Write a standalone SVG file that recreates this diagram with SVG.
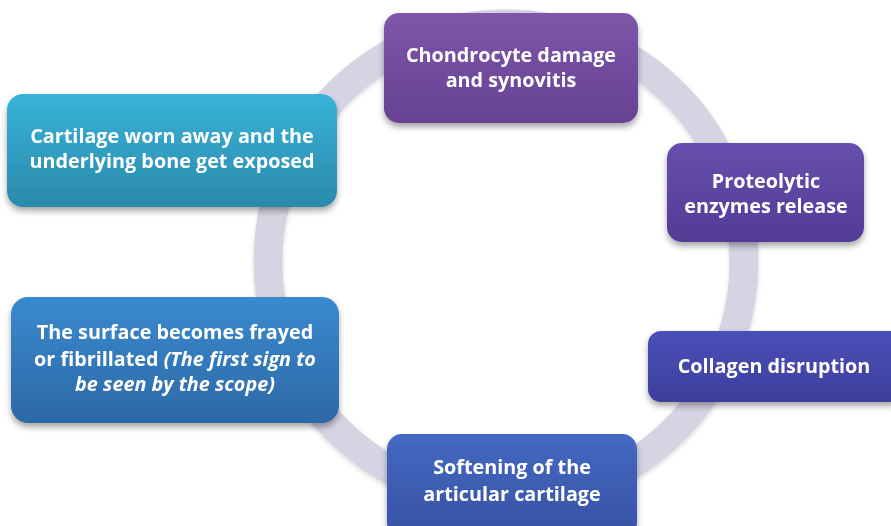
<svg xmlns="http://www.w3.org/2000/svg" width="891" height="526" viewBox="0 0 891 526">
<defs>
<style>
.t{font-family:"Open Sans","Liberation Sans",Arial,sans-serif;font-weight:700;font-size:19.8px;fill:#ffffff;text-anchor:middle}
.i{font-style:italic}
</style>
<filter id="sh" x="-10%" y="-10%" width="120%" height="140%">
<feDropShadow dx="0" dy="4" stdDeviation="3" flood-color="#000" flood-opacity="0.35"/>
</filter>
<filter id="rs" x="-10%" y="-10%" width="120%" height="120%">
<feDropShadow dx="0" dy="2" stdDeviation="2" flood-color="#000" flood-opacity="0.15"/>
</filter>
<linearGradient id="g1" x1="0" y1="0" x2="0" y2="1"><stop offset="0" stop-color="#7e56a9"/><stop offset="1" stop-color="#664294"/></linearGradient>
<linearGradient id="g2" x1="0" y1="0" x2="0" y2="1"><stop offset="0" stop-color="#674fae"/><stop offset="1" stop-color="#523b95"/></linearGradient>
<linearGradient id="g3" x1="0" y1="0" x2="0" y2="1"><stop offset="0" stop-color="#4b4fb8"/><stop offset="1" stop-color="#3c3e9c"/></linearGradient>
<linearGradient id="g4" x1="0" y1="0" x2="0" y2="1"><stop offset="0" stop-color="#4569c3"/><stop offset="1" stop-color="#3651a3"/></linearGradient>
<linearGradient id="g5" x1="0" y1="0" x2="0" y2="1"><stop offset="0" stop-color="#3a8acf"/><stop offset="1" stop-color="#2d68a6"/></linearGradient>
<linearGradient id="g6" x1="0" y1="0" x2="0" y2="1"><stop offset="0" stop-color="#38b3d8"/><stop offset="1" stop-color="#2a8aab"/></linearGradient>
</defs>
<rect width="891" height="526" fill="#ffffff"/>
<g id="connectors">
<circle cx="506" cy="262" r="238" fill="none" stroke="#d6d3e3" stroke-width="29" filter="url(#rs)"/>
</g>
<g id="n1" filter="url(#sh)">
<rect x="384" y="13" width="254" height="110" rx="15" fill="url(#g1)"/>
<text class="t" x="511" y="62">Chondrocyte damage</text>
<text class="t" x="511" y="87">and synovitis</text>
</g>
<g id="n2" filter="url(#sh)">
<rect x="667" y="143" width="197" height="99" rx="15" fill="url(#g2)"/>
<text class="t" x="766" y="188">Proteolytic</text>
<text class="t" x="766" y="213">enzymes release</text>
</g>
<g id="n3" filter="url(#sh)">
<rect x="648" y="331" width="258" height="71" rx="13" fill="url(#g3)"/>
<text class="t" x="774" y="373">Collagen disruption</text>
</g>
<g id="n4" filter="url(#sh)">
<rect x="387" y="434" width="250" height="104" rx="15" fill="url(#g4)"/>
<text class="t" x="512" y="474">Softening of the</text>
<text class="t" x="512" y="501">articular cartilage</text>
</g>
<g id="n5" filter="url(#sh)">
<rect x="11" y="297" width="328" height="126" rx="17" fill="url(#g5)"/>
<text class="t" x="175" y="339">The surface becomes frayed</text>
<text class="t" x="175" y="366">or fibrillated <tspan class="i">(The first sign to</tspan></text>
<text class="t i" x="175" y="391">be seen by the scope)</text>
</g>
<g id="n6" filter="url(#sh)">
<rect x="7" y="94" width="330" height="113" rx="16" fill="url(#g6)"/>
<text class="t" x="172" y="143">Cartilage worn away and the</text>
<text class="t" x="172" y="168">underlying bone get exposed</text>
</g>
</svg>
